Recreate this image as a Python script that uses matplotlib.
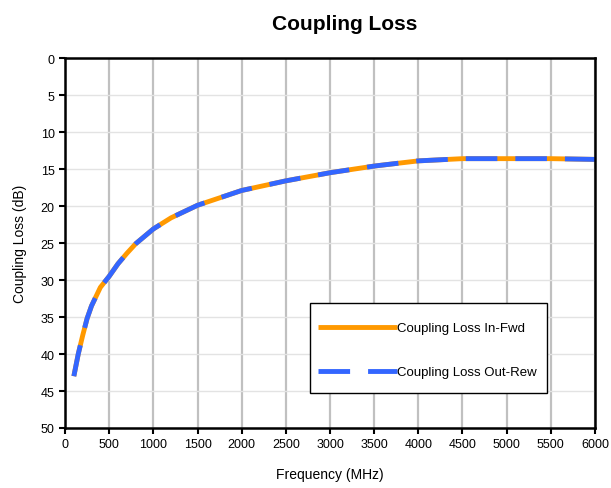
import matplotlib.pyplot as plt
from matplotlib.patches import Rectangle

plt.rcParams['font.family'] = ['Liberation Sans', 'DejaVu Sans']

freq = [100, 150, 200, 250, 300, 400, 500, 600, 700, 800, 1000, 1200, 1500,
        2000, 2500, 3000, 3500, 4000, 4500, 5000, 5500, 6000]
loss_in_fwd = [43, 40, 37.5, 35.2, 33.5, 31, 29.5, 27.8, 26.4, 25.1, 23.1, 21.6, 19.9,
               17.9, 16.6, 15.5, 14.6, 13.9, 13.6, 13.6, 13.6, 13.7]
loss_out_rew = [43, 40, 37.5, 35.2, 33.5, 31, 29.5, 27.8, 26.4, 25.1, 23.1, 21.6, 19.9,
                17.9, 16.6, 15.5, 14.6, 13.9, 13.6, 13.6, 13.6, 13.7]
x_ticks = list(range(0, 6001, 500))
y_ticks = list(range(0, 51, 5))

fig = plt.figure(figsize=(6.11, 4.89), dpi=100)
ax = fig.add_axes([0.1064, 0.1227, 0.8674, 0.7566])

ax.plot(freq, loss_in_fwd, color='#FF9900', lw=3.5, solid_capstyle='butt',
        label='Coupling Loss In-Fwd')
ax.plot(freq, loss_out_rew, color='#3366FF', lw=3.5, linestyle=(0, (6.5, 3.7)),
        dash_capstyle='butt', label='Coupling Loss Out-Rew')

ax.set_xlim(0, 6000)
ax.set_ylim(50, 0)
ax.set_xticks(x_ticks)
ax.set_yticks(y_ticks)
ax.tick_params(labelsize=9, direction='out', length=4, width=1.5)

ax.grid(axis='x', color='#C0C0C0', lw=1.6)
ax.grid(axis='y', color='#E3E3E3', lw=1)
ax.set_axisbelow(True)
for s in ax.spines.values():
    s.set_linewidth(1.8)
    s.set_color('black')

ax.set_title('Coupling Loss', fontsize=15, fontweight='bold', pad=21, x=0.528)
ax.set_xlabel('Frequency (MHz)', fontsize=10, labelpad=12)
ax.set_ylabel('Coupling Loss (dB)', fontsize=10, labelpad=10)

# legend frame drawn separately so the inner padding can match
ax.add_patch(Rectangle((0.462, 0.095), 0.447, 0.243, transform=ax.transAxes,
                       facecolor='white', edgecolor='black', lw=1, zorder=4))
leg = ax.legend(loc='upper left', bbox_to_anchor=(0.4774, 0.2865),
                borderaxespad=0, borderpad=0, frameon=False, fontsize=9.5,
                handlelength=6.0, handletextpad=0, labelspacing=2.4)
leg.set_zorder(5)

fig.savefig('out.png', dpi=100)
